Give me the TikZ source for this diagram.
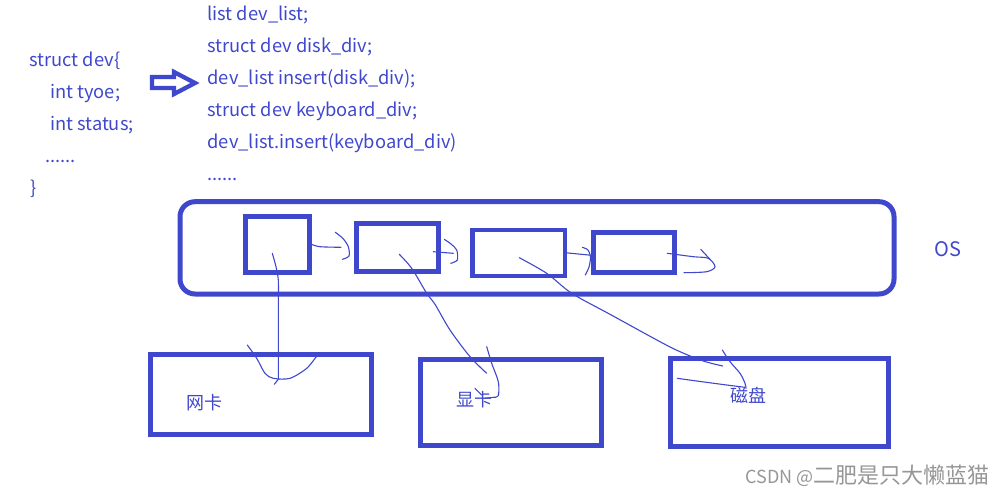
\documentclass[tikz,border=0pt]{standalone}
\usepackage{fontspec}
\setmainfont{Noto Sans CJK SC}
\usepackage{tikz}
\usetikzlibrary{positioning}
\definecolor{paintblue}{RGB}{63,72,204}
\definecolor{markgray}{RGB}{150,150,150}
\tikzset{
  box/.style={draw=paintblue, line width=4.5pt, rectangle, inner sep=0pt},
  devbox/.style={draw=paintblue, line width=5pt, rectangle, inner sep=0pt},
  code/.style={anchor=base west, inner sep=0pt, text=paintblue, font=\fontsize{18.3}{20}\selectfont},
  devname/.style={inner sep=0pt, text=paintblue, font=\fontsize{18}{20}\selectfont},
  pen/.style={draw=paintblue, line width=1.1pt, line cap=round, line join=round},
}

\begin{document}
\begin{tikzpicture}[x=1pt, y=-1pt]
\useasboundingbox (0,0) rectangle (1008,496);

% struct definition
\node[code] (s0) at (29.3,66.7) {struct dev\{};
\node[code] (s1) at (50,98.7) {int tyoe;};
\node[code] (s2) at (50,130.7) {int status;};
\node[code] (s3) at (45,162.7) {......};
\node[code] (s4) at (30,194) {\}};

% hollow arrow
\draw[paintblue, line width=4.3pt, miter limit=3] (152,77) -- (174,77) -- (174,72) -- (195,83) -- (174,94) -- (174,88) -- (152,88) -- cycle;

% list code
\foreach \txt [count=\i from 0] in {{list dev\_list;}, {struct dev disk\_div;}, {dev\_list insert(disk\_div);}, {struct dev keyboard\_div;}, {dev\_list.insert(keyboard\_div)}, {{......}}}
  \node[code] (r\i) at (207.3,20.7+32*\i) {\txt};

% OS and the list inside it
\node[devbox, rounded corners=15pt, minimum width=714pt, minimum height=92.3pt] (os) at (537,247.85) {};
\node[devname, font=\fontsize{20}{22}\selectfont] (osname) at (948,249) {OS};
\node[box, minimum width=64pt, minimum height=55.8pt] (b1) at (277.5,244.4) {};
\node[box, minimum width=81.8pt, minimum height=48pt] (b2) at (397.4,247.3) {};
\node[box, minimum width=92.5pt, minimum height=46.2pt] (b3) at (518.75,252.9) {};
\node[box, minimum width=81.2pt, minimum height=40pt] (b4) at (634.1,252.5) {};

% devices
\node[devbox, minimum width=220.2pt, minimum height=79.4pt] (nic) at (260.9,394.5) {};
\node[devbox, minimum width=180.4pt, minimum height=85.2pt] (gpu) at (511,402.4) {};
\node[devbox, minimum width=217.5pt, minimum height=88.3pt] (disk) at (779.55,402.65) {};
\node[devname] (nicname) at (204,402.5) {网卡};
\node[devname] (gpuname) at (474.7,399.5) {显卡};
\node[devname] (diskname) at (748,395.7) {磁盘};

% hand drawn links
\draw[pen] plot[smooth] coordinates {(b1.east) (320,246.7) (341,247.3)};
\draw[pen] plot[smooth] coordinates {(335.3,232.3) (343,238.5) (348.3,246.7) (349,256) (342.3,259.3)};
\draw[pen] plot[smooth] coordinates {(433.3,251.7) (453.3,253.3)};
\draw[pen] plot[smooth] coordinates {(444.3,239.3) (451,244) (456.7,250) (457.3,260) (450.7,263.3)};
\draw[pen] plot[smooth] coordinates {(b3.east) (591.7,255.3)};
\draw[pen] plot[smooth] coordinates {(582.3,247.3) (588,250) (590.5,257) (589,267) (585.3,275)};
\draw[pen] plot[smooth] coordinates {(667.3,253.3) (693.3,256.7) (708.3,258.3) (715,266.7) (706.7,271.7) (684,272.7)};
\draw[pen] (700.7,249.3) -- (710,259.3);

% links down to the devices
\draw[pen] plot[smooth] coordinates {(272.3,253.3) (276,266.7) (278.3,280) (278.4,300)} -- (278.3,379.3) -- (274.3,384.3);
\draw[pen] plot[smooth] coordinates {(247.3,345) (256.7,358.3) (265,373.3) (273.3,378.3) (290,378.3) (306.7,368.3) (316.7,356)};
\draw[pen] plot[smooth] coordinates {(399.3,254.3) (411.7,268.3) (426.7,293.3) (435,304.3) (450,330) (470,356.7) (486.7,373.3)};
\draw[pen] plot[smooth] coordinates {(486.7,346.7) (491.7,363.3) (498.3,381.7) (498.3,395.7) (493.3,397.3) (485,398.3)};
\draw[pen] (475,388.3) -- (481.7,395);
\draw[pen] plot[smooth] coordinates {(519.3,257.7) (546.7,273.3) (571.7,293.3) (610,314.3) (660,341.7) (680,351.7) (703.3,361) (722.7,366)};
\draw[pen] plot[smooth] coordinates {(722.3,350) (730,361.7) (740,373.3) (745,383.3) (746,388.3)};
\draw[pen] plot[smooth] coordinates {(677.3,378.3) (696.7,381) (726.7,385) (745,387.3)};

% watermark
\node[anchor=base east, inner sep=0pt, text=markgray, font=\fontsize{22}{24}\selectfont] (mark) at (990,483) {{\fontsize{18}{20}\selectfont CSDN @}二肥是只大懒蓝猫};
\end{tikzpicture}
\end{document}
